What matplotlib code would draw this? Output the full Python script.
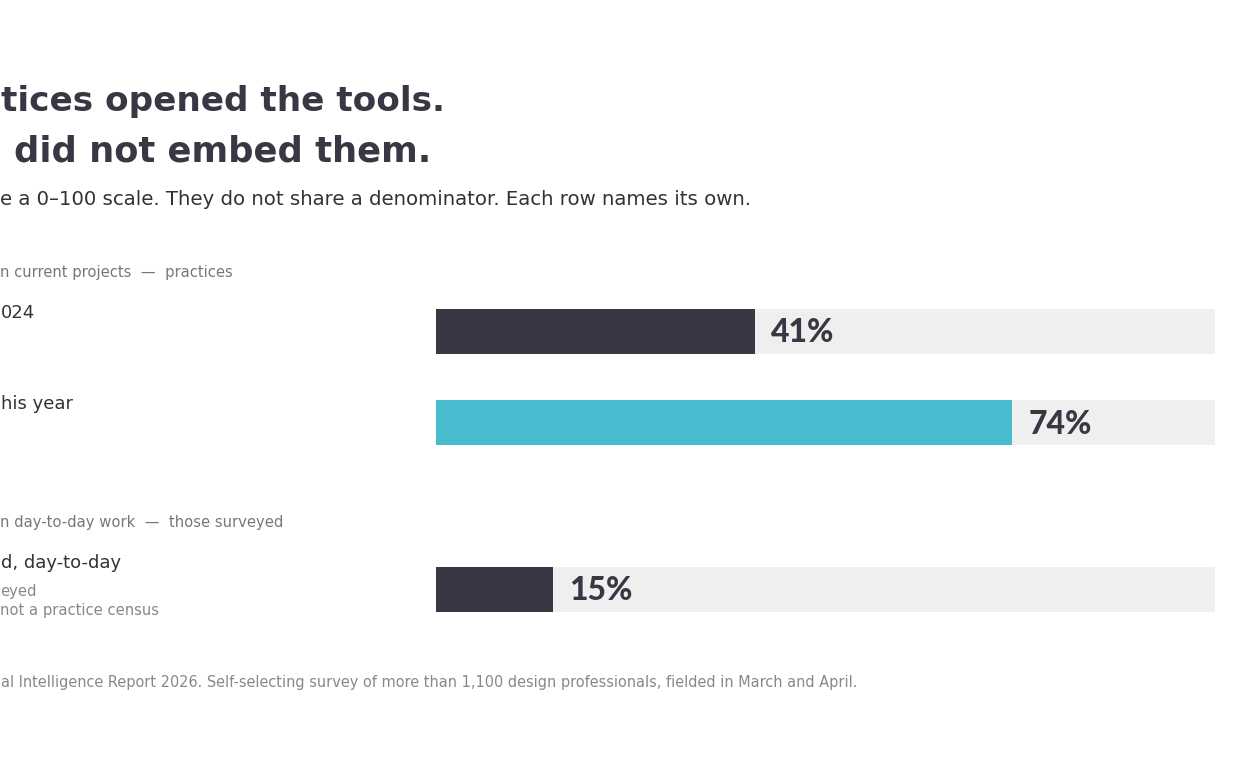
import matplotlib
matplotlib.use("Agg")
import matplotlib.pyplot as plt

# ---------------- data ----------------
title_lines = ["tices opened the tools.", "did not embed them."]
subtitle = "e a 0\u2013100 scale. They do not share a denominator. Each row names its own."
section_labels = ["n current projects  \u2014  practices", "n day-to-day work  \u2014  those surveyed"]
row_labels = ["024", "his year", "d, day-to-day"]
row_sublabels = [[], [], ["eyed", "not a practice census"]]
row_groups = [0, 0, 1]
values = [41, 74, 15]
value_labels = ["41%", "74%", "15%"]
bar_colors = ["#383844", "#48BBCE", "#383844"]
footer = "al Intelligence Report 2026. Self-selecting survey of more than 1,100 design professionals, fielded in March and April."

# ---------------- layout ----------------
W, H = 1250, 779
FONT = "DejaVu Sans"
VFONT = "Lato"
DARK = "#383844"
TEXT = "#333333"
GREY = "#777777"
LGREY = "#888888"
TRACK = "#EFEFEF"

def pt(px):
    return px * 0.72

fig = plt.figure(figsize=(W / 100, H / 100), dpi=100)
fig.patch.set_facecolor("white")

def ftext(x, y, s, **kw):
    kw.setdefault("family", FONT)
    return fig.text(x / W, 1 - y / H, s, **kw)

# title + subtitle
ftext(1, 111, title_lines[0], fontsize=pt(34.3), fontweight="bold", color=DARK, va="baseline")
ftext(14, 161, title_lines[1], fontsize=pt(35.3), fontweight="bold", color=DARK, va="baseline")
ftext(0, 205, subtitle, fontsize=pt(19.8), color=TEXT, va="baseline")

# bar axes (pixel-based vertical layout, data-based horizontal scale)
bar_left, bar_right = 436, 1215
ax_top, ax_bot = 300, 620
ax = fig.add_axes([bar_left / W, 1 - ax_bot / H, (bar_right - bar_left) / W, (ax_bot - ax_top) / H])
ax.set_xlim(0, 100)
ax.set_ylim(ax_bot, ax_top)
ax.axis("off")

first_center = 331.5
row_step = 91
group_gap = 76
bar_h = 45

centers = []
prev_group = row_groups[0]
y = first_center
for i, g in enumerate(row_groups):
    if i > 0:
        y += row_step + (group_gap if g != prev_group else 0)
    prev_group = g
    centers.append(y)

ax.barh(centers, [100] * len(values), height=bar_h, color=TRACK, left=0)
ax.barh(centers, values, height=bar_h, color=bar_colors, left=0)
for c, v, lab in zip(centers, values, value_labels):
    ax.annotate(lab, xy=(v, c), xytext=(16, -11), textcoords="offset pixels",
                ha="left", va="baseline", fontsize=pt(32), fontweight=900,
                color=DARK, family=VFONT)

# left column labels
seen = set()
for i, (c, g) in enumerate(zip(centers, row_groups)):
    n_sub = len(row_sublabels[i])
    label_base = c - 13.5 - 4 * n_sub
    if g not in seen:
        seen.add(g)
        ftext(0, label_base - 40.5, section_labels[g], fontsize=pt(14.8), color=GREY, va="baseline")
    ftext(1, label_base, row_labels[i], fontsize=pt(18), color=TEXT, va="baseline")
    for k, sub in enumerate(row_sublabels[i]):
        ftext(0, label_base + 28 + 19.5 * k, sub, fontsize=pt(14.8), color=LGREY, va="baseline")

ftext(1, 687, footer, fontsize=pt(14.5), color=LGREY, va="baseline")

fig.savefig("out.png", dpi=100, facecolor="white")
